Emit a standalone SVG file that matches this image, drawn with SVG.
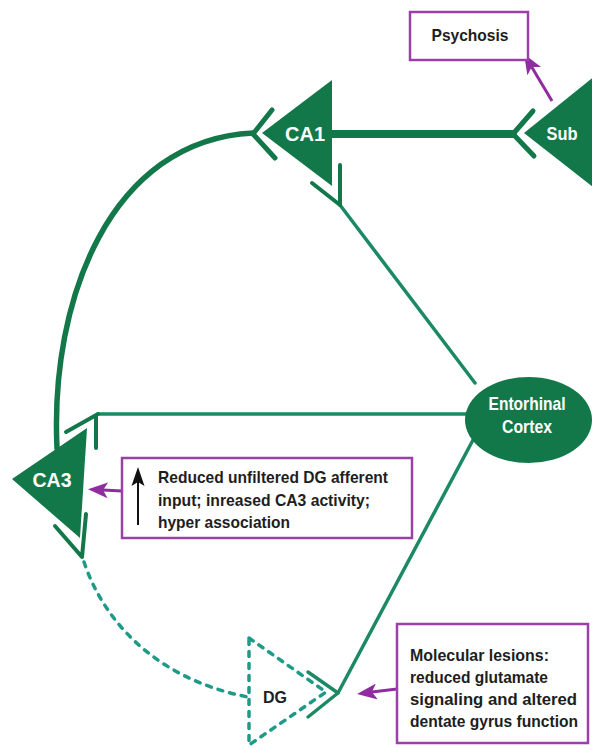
<svg xmlns="http://www.w3.org/2000/svg" width="592" height="749" viewBox="0 0 592 749">
  <defs>
    <marker id="ph" viewBox="0 0 20 16" refX="5" refY="8" markerWidth="20" markerHeight="16" markerUnits="userSpaceOnUse" orient="auto">
      <path d="M0,0 L20,8 L0,16 L5,8 z" fill="#8f2c9f"/>
    </marker>
  </defs>
  <style>
    .tri{fill:#137849}
    .ax{fill:none;stroke:#137849;stroke-linecap:round;stroke-linejoin:round}
    .ec{fill:none;stroke:#1b8a64;stroke-width:3.5;stroke-linecap:round;stroke-linejoin:round}
    .dash{fill:none;stroke:#1e9a86;stroke-width:3.5;stroke-dasharray:5 7;stroke-linecap:round}
    .box{fill:#fff;stroke:#9b40a9;stroke-width:2.5}
    .pa{fill:none;stroke:#8f2c9f;stroke-width:3;marker-end:url(#ph)}
    .lbl{font-family:"Liberation Sans",Arial,sans-serif;font-weight:bold;fill:#fff;text-anchor:middle}
    .txt{font-family:"Liberation Sans",Arial,sans-serif;font-weight:bold;fill:#1e1e1e;font-size:17px}
  </style>
  <rect width="592" height="749" fill="#fff"/>

  <g id="connectors">
    <!-- CA1 to Sub -->
    <path class="ax" d="M332,134 L513,134" stroke-width="8" stroke-linecap="butt"/>
    <path class="ax" d="M533,111 L513,134 L534,156" stroke-width="5"/>
    <!-- CA3 to CA1 arc -->
    <path class="ax" d="M57,448 C50,300 110,140 253,133" stroke-width="5.5"/>
    <path class="ax" d="M272,110 L253,134 L275,158" stroke-width="5"/>
    <!-- EC to CA1 -->
    <path class="ec" d="M475,383 L340,205"/>
    <path class="ax" d="M340,165 L340,205 M312,183 L340,205" stroke-width="4"/>
    <!-- EC to CA3 -->
    <path class="ec" d="M466,414 L98,414"/>
    <path class="ax" d="M66,432 L98,414 M96,416 L96,448" stroke-width="4"/>
    <!-- DG to CA3 (dashed) -->
    <path class="ax" d="M55,526 L82,557 L86,514" stroke-width="4"/>
    <path class="dash" d="M84,562 C105,625 160,680 248,697"/>
    <!-- EC to DG -->
    <path class="ec" d="M473,440 L338,693"/>
    <path class="ec" d="M308,672 L338,693 L308,717"/>
    <!-- annotation arrows -->
    <path class="pa" d="M552,101 L531.7,66.9"/>
    <path class="pa" d="M122,491 L103,490"/>
    <path class="pa" d="M397,689 L371.9,692.1"/>
  </g>

  <g id="CA1">
    <polygon class="tri" points="262,133 332,80 332,186"/>
    <text class="lbl" x="305" y="141" font-size="20" textLength="40" lengthAdjust="spacingAndGlyphs">CA1</text>
  </g>

  <g id="Sub">
    <polygon class="tri" points="524,133 612,62 612,202"/>
    <text class="lbl" x="562" y="140" font-size="19" textLength="31" lengthAdjust="spacingAndGlyphs">Sub</text>
  </g>

  <g id="CA3">
    <polygon class="tri" points="12,479 87,428 80,538"/>
    <text class="lbl" x="52" y="487" font-size="20" textLength="39" lengthAdjust="spacingAndGlyphs">CA3</text>
  </g>

  <g id="EC">
    <ellipse cx="528.5" cy="420" rx="63.5" ry="43" fill="#137849"/>
    <text class="lbl" x="527" y="410" font-size="19" textLength="77" lengthAdjust="spacingAndGlyphs">Entorhinal</text>
    <text class="lbl" x="527" y="433" font-size="19" textLength="50" lengthAdjust="spacingAndGlyphs">Cortex</text>
  </g>

  <g id="DG">
    <polygon class="dash" points="249,638 326,692 249,745"/>
    <text class="txt" x="275" y="703" text-anchor="middle" textLength="24" lengthAdjust="spacingAndGlyphs">DG</text>
  </g>

  <g id="psychosis">
    <rect class="box" x="410" y="12" width="118" height="48"/>
    <text class="txt" x="470" y="41" text-anchor="middle" textLength="77" lengthAdjust="spacingAndGlyphs">Psychosis</text>
  </g>

  <g id="ca3-note">
    <rect class="box" x="122" y="458" width="290" height="80"/>
    <path d="M138,525 L138,482" stroke="#111" stroke-width="2" fill="none"/>
    <polygon points="138,467 131.5,486 138,482 144.5,486" fill="#111"/>
    <text class="txt" x="158" y="483" textLength="230" lengthAdjust="spacingAndGlyphs">Reduced unfiltered DG afferent</text>
    <text class="txt" x="158" y="506" textLength="212" lengthAdjust="spacingAndGlyphs">input; inreased CA3 activity;</text>
    <text class="txt" x="158" y="528" textLength="132" lengthAdjust="spacingAndGlyphs">hyper association</text>
  </g>

  <g id="molecular-note">
    <rect class="box" x="397" y="624" width="191" height="119"/>
    <text class="txt" x="410" y="661" textLength="139" lengthAdjust="spacingAndGlyphs">Molecular lesions:</text>
    <text class="txt" x="410" y="683" textLength="138" lengthAdjust="spacingAndGlyphs">reduced glutamate</text>
    <text class="txt" x="410" y="705" textLength="167" lengthAdjust="spacingAndGlyphs">signaling and altered</text>
    <text class="txt" x="410" y="727" textLength="168" lengthAdjust="spacingAndGlyphs">dentate gyrus function</text>
  </g>
</svg>
